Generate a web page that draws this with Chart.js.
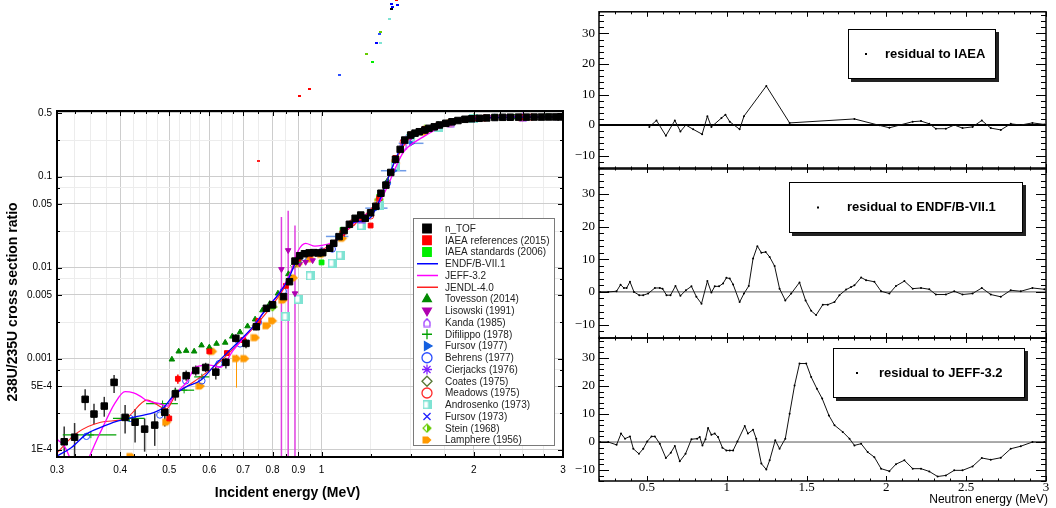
<!DOCTYPE html>
<html>
<head>
<meta charset="utf-8">
<title>238U/235U fission cross section ratio</title>
<script src="https://cdn.jsdelivr.net/npm/chart.js@4.4.0/dist/chart.umd.min.js"></script>
<style>
  body { margin: 0; background: #fff; }
  #wrap { position: relative; width: 1056px; height: 508px; overflow: hidden; }
  #wrap canvas { position: absolute; left: 0; top: 0; }
</style>
</head>
<body>
<div id="wrap">
  <canvas id="ratio" width="1056" height="508"></canvas>
  <canvas id="res1" width="1056" height="508"></canvas>
  <canvas id="res2" width="1056" height="508"></canvas>
  <canvas id="res3" width="1056" height="508"></canvas>
</div>
<script>
// ---------- left panel: cross section ratio (energy in MeV) ----------
const ntofE = [0.310, 0.325, 0.341, 0.355, 0.372, 0.389, 0.409, 0.428, 0.447, 0.468, 0.490, 0.514, 0.540, 0.564, 0.590, 0.618, 0.647, 0.677, 0.709, 0.743,
  0.778, 0.800, 0.841, 0.864, 0.886, 0.905, 0.925, 0.945, 0.965, 0.985, 1.005, 1.038, 1.057, 1.083, 1.108, 1.135, 1.165, 1.195, 1.220, 1.250,
  1.280, 1.310, 1.340, 1.370, 1.400, 1.430, 1.460, 1.500, 1.530, 1.560, 1.600, 1.630, 1.670, 1.710, 1.760, 1.810, 1.860, 1.920, 1.980, 2.050,
  2.120, 2.200, 2.280, 2.360, 2.450, 2.540, 2.630, 2.720, 2.810, 2.900, 2.970];
const ntofR = [1.22e-4, 1.37e-4, 3.57e-4, 2.46e-4, 3.01e-4, 5.49e-4, 2.26e-4, 2.00e-4, 1.68e-4, 1.86e-4, 2.57e-4, 4.10e-4, 6.50e-4, 7.40e-4, 8.00e-4, 7.10e-4, 9.10e-4, 1.67e-3, 1.47e-3, 2.24e-3,
  3.57e-3, 3.90e-3, 4.80e-3, 7.00e-3, 0.0118, 0.0135, 0.0142, 0.0145, 0.0146, 0.0145, 0.0146, 0.0163, 0.0185, 0.0219, 0.0255, 0.0299, 0.0348, 0.0378, 0.0348, 0.0400,
  0.0471, 0.0656, 0.0806, 0.111, 0.155, 0.199, 0.252, 0.286, 0.300, 0.311, 0.325, 0.339, 0.352, 0.369, 0.385, 0.400, 0.413, 0.426, 0.432, 0.437,
  0.441, 0.446, 0.448, 0.449, 0.450, 0.450, 0.451, 0.451, 0.452, 0.452, 0.452];
const ntofLo = [7e-5, 7e-5, 2.7e-4, 1.9e-4, 2.3e-4, 4.2e-4, 1.5e-4, 1.2e-4, 9.5e-5, 1.1e-4, 1.8e-4, 3.45e-4, 5.7e-4, 6.5e-4, 7.1e-4, 5.9e-4, 7.8e-4, 1.5e-3, 1.3e-3, 2.05e-3];
const ntofHi = [1.8e-4, 1.96e-4, 4.6e-4, 3.2e-4, 3.8e-4, 6.6e-4, 3.1e-4, 2.8e-4, 2.2e-4, 2.5e-4, 3.1e-4, 4.8e-4, 7.4e-4, 8.4e-4, 9.0e-4, 8.1e-4, 1.02e-3, 1.85e-3, 1.65e-3, 2.45e-3];

const iaeaRefE = [0.500, 0.520, 0.600, 0.650, 0.700, 0.750, 0.800, 0.850, 0.900, 1.000, 1.100, 1.200, 1.250, 1.300, 1.400, 1.500, 1.600, 1.800, 2.000, 2.500, 3.000];
const iaeaRefR = [2.2e-4, 6.0e-4, 1.2e-3, 1.15e-3, 1.6e-3, 2.6e-3, 4.0e-3, 6.3e-3, 0.0125, 0.0148, 0.024, 0.034, 0.029, 0.058, 0.160, 0.290, 0.335, 0.400, 0.437, 0.450, 0.452];
const iaeaRefLo = [2.0e-4, 5.3e-4];
const iaeaRefHi = [2.45e-4, 6.7e-4];

const iaeaStdE = [0.800, 0.900, 1.000, 1.100, 1.200, 1.300, 1.400, 1.500, 1.600, 1.800, 2.000, 2.200, 2.500, 2.800];
const iaeaStdR = [3.8e-3, 0.0122, 0.0114, 0.026, 0.036, 0.060, 0.152, 0.290, 0.330, 0.400, 0.440, 0.450, 0.452, 0.455];

const endfE = [0.300, 0.320, 0.344, 0.370, 0.392, 0.430, 0.471, 0.490, 0.511, 0.540, 0.577, 0.619, 0.650, 0.690, 0.730, 0.780, 0.820, 0.860, 0.890, 0.920,
  0.960, 1.000, 1.050, 1.100, 1.150, 1.200, 1.250, 1.300, 1.350, 1.400, 1.450, 1.500, 1.560, 1.650, 1.800, 2.000, 2.200, 2.500, 3.000];
const endfR = [8.5e-5, 1.05e-4, 1.5e-4, 1.8e-4, 2.03e-4, 2.3e-4, 2.61e-4, 3.0e-4, 4.0e-4, 4.9e-4, 5.8e-4, 8.8e-4, 1.15e-3, 1.59e-3, 2.2e-3, 3.6e-3, 5.0e-3, 7.5e-3, 0.0115, 0.0135,
  0.0140, 0.0150, 0.0175, 0.0240, 0.0310, 0.0325, 0.0355, 0.054, 0.092, 0.155, 0.230, 0.290, 0.330, 0.360, 0.390, 0.430, 0.445, 0.450, 0.455];

const jeffE = [0.300, 0.310, 0.325, 0.338, 0.348, 0.360, 0.370, 0.390, 0.409, 0.425, 0.437, 0.452, 0.479, 0.495, 0.510, 0.541, 0.565, 0.600, 0.630, 0.670,
  0.720, 0.780, 0.830, 0.870, 0.900, 0.930, 0.970, 1.000, 1.050, 1.100, 1.150, 1.200, 1.250, 1.300, 1.350, 1.400, 1.450, 1.500, 1.600, 1.700,
  1.800, 2.000, 2.300, 2.600, 3.000];
const jeffR = [1.3e-4, 1.1e-4, 6.5e-5, 6.0e-5, 8.5e-5, 1.3e-4, 1.79e-4, 3.2e-4, 4.33e-4, 4.2e-4, 3.9e-4, 3.45e-4, 3.2e-4, 3.0e-4, 3.9e-4, 5.5e-4, 8.1e-4, 8.5e-4, 8.0e-4, 1.25e-3,
  2.0e-3, 3.6e-3, 5.5e-3, 9.0e-3, 0.0155, 0.0185, 0.0172, 0.0175, 0.0190, 0.0230, 0.0300, 0.0360, 0.0410, 0.052, 0.078, 0.125, 0.185, 0.223, 0.280, 0.340,
  0.395, 0.455, 0.465, 0.460, 0.450];

const jendlE = [0.300, 0.327, 0.366, 0.410, 0.452, 0.494, 0.515, 0.560, 0.620, 0.680, 0.740, 0.800, 0.850, 0.890, 0.950, 1.000, 1.100, 1.200, 1.300, 1.400,
  1.500, 1.700, 2.000, 2.500, 3.000];
const jendlR = [9.2e-5, 1.5e-4, 2.0e-4, 2.2e-4, 3.5e-4, 2.8e-4, 4.0e-4, 5.6e-4, 8.6e-4, 1.4e-3, 2.3e-3, 3.9e-3, 6.5e-3, 0.0120, 0.0145, 0.0155, 0.0235, 0.035, 0.058, 0.150,
  0.275, 0.360, 0.430, 0.447, 0.450];

const tovE = [0.506, 0.522, 0.540, 0.560, 0.579, 0.600, 0.620, 0.645, 0.666, 0.690, 0.714, 0.739, 0.764, 0.790, 0.820, 0.860, 0.900, 1.000, 1.100, 1.200, 1.350, 1.500, 1.700, 2.000, 2.400, 2.800];
const tovR = [9.8e-4, 1.2e-3, 1.22e-3, 1.2e-3, 1.4e-3, 1.33e-3, 1.46e-3, 1.5e-3, 1.75e-3, 1.95e-3, 2.27e-3, 2.7e-3, 3.4e-3, 4.0e-3, 5.2e-3, 8.5e-3, 0.0128, 0.0150, 0.025, 0.036, 0.090, 0.285, 0.370, 0.440, 0.450, 0.450];

const lisE = [0.833, 0.859, 0.886, 0.905, 0.930, 0.960, 1.000, 1.100, 1.200, 1.300, 1.400, 1.500, 1.600, 1.800, 2.000, 2.500];
const lisR = [9.6e-3, 0.0155, 5.2e-3, 0.0110, 0.0115, 0.0120, 0.0145, 0.024, 0.035, 0.055, 0.150, 0.270, 0.320, 0.390, 0.430, 0.445];
const lisLo = [5e-5, 5e-5, 5e-5];
const lisHi = [0.036, 0.042, 0.029];

const kandaE = [1.000, 1.200, 1.450, 1.800, 2.500];
const kandaR = [0.0152, 0.034, 0.220, 0.390, 0.448];

const difE = [0.350, 0.417, 0.485, 0.535, 0.580];
const difR = [1.45e-4, 2.2e-4, 3.2e-4, 4.5e-4, 6.3e-4];
const difXLo = [0.308, 0.387, 0.450, 0.510, 0.560];
const difXHi = [0.393, 0.447, 0.520, 0.560, 0.600];

const fur77E = [1.075, 1.285, 1.390, 1.505];
const fur77R = [0.022, 0.045, 0.116, 0.232];
const fur77XLo = [1.02, 1.22, 1.31, 1.42];
const fur77XHi = [1.13, 1.35, 1.47, 1.59];

const behE = [0.343, 0.418, 0.479, 0.539, 0.580, 0.627, 0.690, 0.750, 0.840, 0.920, 1.050, 1.200, 1.350, 1.500, 1.800, 2.200];
const behR = [1.4e-4, 2.2e-4, 2.4e-4, 5.7e-4, 5.7e-4, 8.8e-4, 1.45e-3, 2.5e-3, 5.5e-3, 0.013, 0.016, 0.034, 0.085, 0.280, 0.395, 0.447];

const cierE = [1.480, 1.700, 2.000, 2.500, 2.900];
const cierR = [0.265, 0.360, 0.430, 0.448, 0.450];

const coatE = [0.740, 0.800, 0.880, 1.000, 1.200, 1.400, 1.600, 2.000];
const coatR = [2.3e-3, 3.8e-3, 0.0105, 0.0150, 0.035, 0.155, 0.330, 0.435];

const meadE = [0.950, 1.150, 1.250, 1.450, 1.700, 2.100, 2.600];
const meadR = [0.0140, 0.031, 0.037, 0.240, 0.365, 0.440, 0.450];

const androE = [0.850, 0.900, 0.950, 1.050, 1.090, 1.200, 1.300, 1.400, 1.500, 1.700, 2.000];
const androR = [2.9e-3, 4.5e-3, 8.1e-3, 0.0112, 0.0137, 0.029, 0.048, 0.130, 0.260, 0.350, 0.430];

const fur73E = [0.950, 1.100, 1.300, 1.450, 1.800, 2.300];
const fur73R = [0.0145, 0.023, 0.052, 0.240, 0.390, 0.447];

const steinE = [0.800, 1.000, 1.300, 1.600, 2.000];
const steinR = [3.7e-3, 0.0147, 0.056, 0.330, 0.438];

const lampE = [0.420, 0.494, 0.576, 0.609, 0.679, 0.705, 0.740, 0.780, 0.800, 0.840, 0.880, 0.900, 0.950, 1.000, 1.100, 1.200, 1.300, 1.400, 1.500, 1.600, 1.800, 2.000, 2.500];
const lampR = [8.4e-5, 2.0e-4, 5.0e-4, 1.2e-3, 1.0e-3, 1.0e-3, 1.7e-3, 2.3e-3, 2.6e-3, 4.4e-3, 7.7e-3, 0.0110, 0.0125, 0.0140, 0.021, 0.031, 0.052, 0.140, 0.262, 0.310, 0.385, 0.430, 0.445];
const lampLo = [null, null, null, null, 4.8e-4];
const lampHi = [null, null, null, null, 1.1e-3];

// points that fall outside the frame (drawn unclipped, as in the original)
const strayE = [0.750, 0.903, 0.944, 1.083, 1.257, 1.222, 1.281, 1.304, 1.298, 1.307, 1.357, 1.371, 1.379, 1.407, 1.374, 1.400];
const strayR = [0.150, 0.768, 0.918, 1.31, 1.83, 2.22, 2.94, 2.94, 3.72, 3.91, 5.39, 6.90, 7.25, 7.69, 7.82, 8.66];
const straySet = ['JENDL-4.0', 'IAEA references (2015)', 'IAEA references (2015)', 'Behrens (1977)', 'IAEA standards (2006)', 'Stein (1968)',
  'ENDF/B-VII.1', 'Androsenko (1973)', 'Behrens (1977)', 'Stein (1968)', 'Androsenko (1973)', 'n_TOF', 'ENDF/B-VII.1', 'ENDF/B-VII.1', 'ENDF/B-VII.1', 'IAEA references (2015)'];

// axis ticks of the left panel
const xTickVals = [0.3, 0.4, 0.5, 0.6, 0.7, 0.8, 0.9, 1, 2, 3];
const xTickLabels = ['0.3', '0.4', '0.5', '0.6', '0.7', '0.8', '0.9', '1', '2', '3'];
const xMinorVals = [0.325, 0.35, 0.375, 0.425, 0.45, 0.475, 0.525, 0.55, 0.575, 0.633, 0.667, 0.75, 0.85, 0.95, 1.25, 1.5, 1.75, 2.25, 2.5, 2.75];
const yTickVals = [1e-4, 5e-4, 0.001, 0.005, 0.01, 0.05, 0.1, 0.5];
const yTickLabels = ['1E-4', '5E-4', '0.001', '0.005', '0.01', '0.05', '0.1', '0.5'];
const yMinorVals = [2.5e-4, 7.5e-4, 0.0025, 0.0075, 0.025, 0.075, 0.25];

// ---------- right panels: residuals in % ----------
const resIaeaE = [0.515, 0.560, 0.619, 0.675, 0.710, 0.744, 0.790, 0.846, 0.879, 0.904, 0.967, 0.992, 1.019, 1.081, 1.108, 1.248, 1.394, 1.800,
  1.956, 2.019, 2.165, 2.217, 2.269, 2.310, 2.373, 2.425, 2.477, 2.540, 2.598, 2.654, 2.717, 2.779, 2.842, 2.915, 2.990];
const resIaea = [-0.6, 1.5, -3.5, 1.5, -2.1, 0.0, -1.4, -3.0, 2.9, -0.6, 2.3, 3.4, 1.1, -1.4, 2.9, 12.8, 0.7, 2.0,
  -0.1, -0.9, 1.1, 1.3, 0.4, -1.2, -1.2, 0.0, -1.0, -0.6, 1.5, -1.0, -1.6, 0.4, 0.0, 0.7, 0.2];

const resEndfE = [0.206, 0.258, 0.310, 0.335, 0.356, 0.373, 0.394, 0.419, 0.452, 0.477, 0.508, 0.550, 0.581, 0.598, 0.623, 0.648, 0.679, 0.710, 0.744, 0.779,
  0.810, 0.842, 0.879, 0.904, 0.925, 0.952, 0.977, 0.998, 1.019, 1.040, 1.081, 1.108, 1.138, 1.165, 1.192, 1.217, 1.244, 1.269, 1.300, 1.331,
  1.367, 1.404, 1.456, 1.494, 1.529, 1.560, 1.602, 1.633, 1.675, 1.706, 1.748, 1.779, 1.800, 1.842, 1.873, 1.925, 1.967, 2.019, 2.060, 2.113,
  2.165, 2.217, 2.269, 2.310, 2.373, 2.425, 2.477, 2.540, 2.598, 2.654, 2.717, 2.779, 2.842, 2.915, 2.990];
const resEndf = [0.0, 0.0, 0.2, 2.2, 1.2, 1.2, 3.1, 0.0, -1.0, -1.0, -0.5, 1.2, 1.2, 1.0, -1.0, -1.0, 1.8, -1.2, 0.5, 1.7,
  -1.5, -3.6, 3.3, -0.2, 1.7, 1.7, 2.6, 4.3, 4.1, 2.3, -3.1, -0.5, 1.8, 10.2, 14.0, 12.0, 12.2, 10.7, 7.9, 1.0,
  -2.6, -0.5, 2.9, -2.6, -5.8, -7.1, -3.9, -3.9, -3.1, -1.0, 0.7, 1.5, 2.0, 4.4, 3.6, 3.1, 0.2, -0.5, 1.8, 3.3,
  1.0, 1.2, 0.8, -0.8, -0.8, 0.2, -0.8, -0.5, 1.2, -0.8, -1.5, 0.5, 0.2, 1.2, 0.8];

const resJeffE = [0.206, 0.258, 0.310, 0.338, 0.363, 0.394, 0.415, 0.450, 0.477, 0.502, 0.529, 0.550, 0.581, 0.619, 0.650, 0.675, 0.706, 0.742, 0.779, 0.815,
  0.831, 0.848, 0.867, 0.883, 0.904, 0.925, 0.946, 0.973, 0.998, 1.019, 1.040, 1.067, 1.113, 1.133, 1.165, 1.185, 1.217, 1.248, 1.269, 1.304,
  1.331, 1.367, 1.394, 1.425, 1.456, 1.498, 1.529, 1.565, 1.598, 1.640, 1.675, 1.727, 1.769, 1.800, 1.842, 1.883, 1.925, 1.967, 2.019, 2.060,
  2.113, 2.165, 2.217, 2.269, 2.321, 2.373, 2.425, 2.477, 2.540, 2.598, 2.654, 2.717, 2.779, 2.842, 2.915, 2.990];
const resJeff = [0.0, 0.0, -1.0, 3.0, 1.2, 2.0, -2.4, -4.2, -2.4, 0.2, 2.0, 2.0, -0.6, -5.7, -3.8, -1.4, -6.9, -4.2, 1.0, 1.2,
  1.8, -1.2, 1.0, 5.0, 2.6, 3.0, 1.8, -2.0, -3.0, -3.0, -3.0, 0.2, 5.7, 3.0, 4.4, 1.2, -7.7, -9.8, -6.5, 0.6,
  -2.4, 1.2, 10.1, 20.2, 28.0, 28.0, 23.2, 19.0, 15.5, 9.5, 6.0, 3.6, 1.2, -1.2, -0.6, -3.6, -5.4, -9.5, -10.4, -7.9,
  -6.5, -9.5, -9.5, -10.5, -12.3, -11.9, -10.1, -10.1, -8.7, -5.7, -6.3, -5.6, -2.4, -1.5, 0.0, 0.0];

const resTickVals = [-10, 0, 10, 20, 30];
const energyTickVals = [0.5, 1, 1.5, 2, 2.5, 3];

// ---------- helpers ----------
const H = Chart.helpers;

function pts(xs, ys) {
  return xs.map((v, i) => ({ x: v, y: ys[i] }));
}

function glyph(size, draw) {
  const c = document.createElement('canvas');
  c.width = size; c.height = size;
  draw(c.getContext('2d'), size);
  return c;
}

const kandaGlyph = glyph(10, g => {
  g.strokeStyle = '#9933ff'; g.lineWidth = 1.2;
  g.beginPath(); g.moveTo(2, 9); g.lineTo(8, 9); g.lineTo(8, 4.5); g.lineTo(5, 1.2); g.lineTo(2, 4.5); g.closePath(); g.stroke();
});
const androGlyph = glyph(9, g => {
  g.fillStyle = '#7fe3d3'; g.fillRect(0, 0, 9, 9);
  g.fillStyle = '#fff'; g.fillRect(1.5, 1.5, 4, 6);
});
const steinGlyph = glyph(10, g => {
  g.strokeStyle = '#66cc00'; g.fillStyle = '#66cc00'; g.lineWidth = 1.2;
  g.beginPath(); g.moveTo(5, 1); g.lineTo(9, 5); g.lineTo(5, 9); g.lineTo(1, 5); g.closePath(); g.stroke();
  g.beginPath(); g.moveTo(5, 1); g.lineTo(9, 5); g.lineTo(5, 9); g.closePath(); g.fill();
});
const lampGlyph = glyph(10, g => {
  g.fillStyle = '#ff9900';
  g.beginPath(); g.moveTo(0.5, 1.5); g.lineTo(6, 1.5); g.lineTo(9.5, 5); g.lineTo(6, 8.5); g.lineTo(0.5, 8.5); g.closePath(); g.fill();
});

function marker(label, xs, ys, style, color, extra) {
  return Object.assign({
    label, data: pts(xs, ys), showLine: false, order: 2,
    pointStyle: style, pointRadius: 3.2, pointBorderWidth: 1,
    pointBackgroundColor: color, pointBorderColor: color,
    borderColor: color, backgroundColor: color
  }, extra || {});
}

function model(label, xs, ys, color, width) {
  return {
    label, data: pts(xs, ys), showLine: true, isLine: true, order: 1,
    borderColor: color, backgroundColor: color, borderWidth: width,
    pointRadius: 0, cubicInterpolationMode: 'monotone'
  };
}

// ---------- plugins ----------
const errorBars = {
  id: 'errorBars',
  beforeDatasetsDraw(chart) {
    const { ctx, chartArea: a, scales: { x, y } } = chart;
    ctx.save();
    ctx.beginPath(); ctx.rect(a.left, a.top, a.right - a.left, a.bottom - a.top); ctx.clip();
    chart.data.datasets.forEach(ds => {
      if (!ds.errLo && !ds.errXLo) return;
      ctx.strokeStyle = ds.errColor || ds.borderColor;
      ctx.lineWidth = ds.errWidth || 1;
      ds.data.forEach((p, i) => {
        const px = x.getPixelForValue(p.x), py = y.getPixelForValue(p.y);
        ctx.beginPath();
        if (ds.errLo && ds.errLo[i] != null) {
          ctx.moveTo(px, y.getPixelForValue(ds.errLo[i]));
          ctx.lineTo(px, y.getPixelForValue(ds.errHi[i]));
        }
        if (ds.errXLo && ds.errXLo[i] != null) {
          ctx.moveTo(x.getPixelForValue(ds.errXLo[i]), py);
          ctx.lineTo(x.getPixelForValue(ds.errXHi[i]), py);
        }
        ctx.stroke();
      });
    });
    ctx.restore();
  }
};

const zeroLine = {
  id: 'zeroLine',
  beforeDatasetsDraw(chart, args, opts) {
    if (!opts.width) return;
    const { ctx, chartArea: a, scales: { y } } = chart;
    const py = y.getPixelForValue(0);
    ctx.save();
    ctx.strokeStyle = opts.color || '#000';
    ctx.lineWidth = opts.width;
    ctx.beginPath(); ctx.moveTo(a.left, py); ctx.lineTo(a.right, py); ctx.stroke();
    ctx.restore();
  }
};

// frame with ROOT style ticks pointing inwards
const frameTicks = {
  id: 'frameTicks',
  afterDatasetsDraw(chart, args, opts) {
    const { ctx, chartArea: a, scales: { x, y } } = chart;
    ctx.save();
    ctx.strokeStyle = '#000';
    ctx.lineWidth = 1;
    ctx.beginPath();
    (opts.x || []).forEach(t => {
      const px = Math.round(x.getPixelForValue(t.v)) + 0.5;
      ctx.moveTo(px, a.bottom); ctx.lineTo(px, a.bottom - t.len);
      ctx.moveTo(px, a.top); ctx.lineTo(px, a.top + t.len);
    });
    (opts.y || []).forEach(t => {
      const py = Math.round(y.getPixelForValue(t.v)) + 0.5;
      ctx.moveTo(a.left, py); ctx.lineTo(a.left + t.len, py);
      ctx.moveTo(a.right, py); ctx.lineTo(a.right - t.len, py);
    });
    ctx.stroke();
    ctx.lineWidth = opts.width || 1.5;
    ctx.strokeRect(a.left, a.top, a.right - a.left, a.bottom - a.top);
    ctx.restore();
  }
};

const strays = {
  id: 'strays',
  afterDatasetsDraw(chart, args, opts) {
    if (!opts.e) return;
    const { ctx, scales: { x, y } } = chart;
    ctx.save();
    opts.e.forEach((e, i) => {
      const ds = chart.data.datasets.find(d => d.label === opts.set[i]);
      ctx.fillStyle = ds ? ds.borderColor : '#000';
      const px = x.getPixelForValue(e), py = y.getPixelForValue(opts.r[i]);
      ctx.fillRect(Math.round(px) - 1, Math.round(py) - 1, 3, 2);
    });
    ctx.restore();
  }
};

const boxLegend = {
  id: 'boxLegend',
  afterDraw(chart, args, opts) {
    if (!opts.box) return;
    const { ctx } = chart;
    const b = opts.box;
    ctx.save();
    ctx.fillStyle = '#fff';
    ctx.fillRect(b.left, b.top, b.right - b.left, b.bottom - b.top);
    ctx.strokeStyle = '#7a7a7a'; ctx.lineWidth = 1;
    ctx.strokeRect(b.left + 0.5, b.top + 0.5, b.right - b.left, b.bottom - b.top);
    ctx.font = '10px "Liberation Sans", Arial, sans-serif';
    ctx.textBaseline = 'middle';
    chart.data.datasets.forEach((ds, i) => {
      const cy = b.firstRow + i * b.rowStep;
      if (ds.isLine) {
        ctx.strokeStyle = ds.borderColor; ctx.lineWidth = 1.5;
        ctx.beginPath(); ctx.moveTo(b.lineFrom, cy); ctx.lineTo(b.lineTo, cy); ctx.stroke();
      } else {
        ctx.fillStyle = ds.pointBackgroundColor;
        ctx.strokeStyle = ds.pointBorderColor;
        ctx.lineWidth = 1.3;
        H.drawPoint(ctx, { pointStyle: ds.pointStyle, rotation: ds.rotation || 0, radius: ds.legendRadius || 5, borderWidth: 1.3 }, b.symbolX, cy);
      }
      ctx.fillStyle = '#222';
      ctx.fillText(ds.label, b.textX, cy + 0.5);
    });
    ctx.restore();
  }
};

const resLegend = {
  id: 'resLegend',
  afterDraw(chart, args, opts) {
    const { ctx } = chart;
    const b = opts.box;
    ctx.save();
    ctx.fillStyle = '#222';
    ctx.fillRect(b.left + 3, b.top + 3, b.right - b.left, b.bottom - b.top);
    ctx.fillStyle = '#fff';
    ctx.fillRect(b.left, b.top, b.right - b.left, b.bottom - b.top);
    ctx.strokeStyle = '#000'; ctx.lineWidth = 1;
    ctx.strokeRect(b.left + 0.5, b.top + 0.5, b.right - b.left - 1, b.bottom - b.top - 1);
    const cy = (b.top + b.bottom) / 2;
    ctx.fillStyle = '#000';
    ctx.fillRect(b.dotX - 1, cy - 1, 2, 2);
    ctx.font = 'bold 13px "Liberation Sans", Arial, sans-serif';
    ctx.textBaseline = 'middle';
    ctx.fillText(opts.text, b.textX, cy);
    if (opts.xTitle) {
      ctx.font = '12px "Liberation Sans", Arial, sans-serif';
      ctx.textAlign = 'right';
      ctx.fillText(opts.xTitle, chart.chartArea.right + 2, 500);
    }
    ctx.restore();
  }
};

const axisTitles = {
  id: 'axisTitles',
  afterDraw(chart, args, opts) {
    const { ctx } = chart;
    ctx.save();
    ctx.fillStyle = '#000';
    ctx.font = 'bold 14px "Liberation Sans", Arial, sans-serif';
    ctx.textAlign = 'center';
    ctx.textBaseline = 'middle';
    ctx.fillText(opts.x, 287.5, 493);
    ctx.translate(13, 302);
    ctx.rotate(-Math.PI / 2);
    ctx.fillText(opts.y, 0, 0);
    ctx.restore();
  }
};

// ---------- left chart ----------
const majorX = xTickVals.map(v => ({ v, len: 5 })).concat(xMinorVals.map(v => ({ v, len: 3 })));
const majorY = yTickVals.map(v => ({ v, len: 5 })).concat(yMinorVals.map(v => ({ v, len: 3 })));

const ratioSets = [
  marker('n_TOF', ntofE, ntofR, 'rect', '#000', { pointRadius: 4.6, order: 0, errLo: ntofLo, errHi: ntofHi, errColor: '#333', errWidth: 1.5, legendRadius: 6 }),
  marker('IAEA references (2015)', iaeaRefE, iaeaRefR, 'rect', '#ff0000', { pointRadius: 3.4, errLo: iaeaRefLo, errHi: iaeaRefHi, errWidth: 1.5, legendRadius: 6 }),
  marker('IAEA standards (2006)', iaeaStdE, iaeaStdR, 'rect', '#00ee00', { pointRadius: 3.4, legendRadius: 6 }),
  model('ENDF/B-VII.1', endfE, endfR, '#0000ff', 1.3),
  model('JEFF-3.2', jeffE, jeffR, '#ff00ff', 1.3),
  model('JENDL-4.0', jendlE, jendlR, '#ff2020', 1.1),
  marker('Tovesson (2014)', tovE, tovR, 'triangle', '#008a00'),
  marker('Lisowski (1991)', lisE, lisR, 'triangle', '#b000b0', { rotation: 180, pointRotation: 180, errLo: lisLo, errHi: lisHi, errColor: '#e040e0', errWidth: 1.5 }),
  marker('Kanda (1985)', kandaE, kandaR, kandaGlyph, '#9933ff'),
  marker('Difilippo (1978)', difE, difR, 'cross', '#00a000', { errXLo: difXLo, errXHi: difXHi, errWidth: 1.2 }),
  marker('Fursov (1977)', fur77E, fur77R, 'triangle', '#1560e0', { rotation: 90, pointRotation: 90, errXLo: fur77XLo, errXHi: fur77XHi, errColor: '#6f9be8', errWidth: 1.5 }),
  marker('Behrens (1977)', behE, behR, 'circle', '#2a4dff', { pointBackgroundColor: 'rgba(0,0,0,0)' }),
  marker('Cierjacks (1976)', cierE, cierR, 'star', '#8020ff'),
  marker('Coates (1975)', coatE, coatR, 'rectRot', '#557733', { pointBackgroundColor: 'rgba(0,0,0,0)' }),
  marker('Meadows (1975)', meadE, meadR, 'circle', '#ff2a2a', { pointBackgroundColor: 'rgba(0,0,0,0)' }),
  marker('Androsenko (1973)', androE, androR, androGlyph, '#7fe3d3'),
  marker('Fursov (1973)', fur73E, fur73R, 'crossRot', '#2020ff'),
  marker('Stein (1968)', steinE, steinR, steinGlyph, '#66cc00'),
  marker('Lamphere (1956)', lampE, lampR, lampGlyph, '#ff9900', { errLo: lampLo, errHi: lampHi })
];

new Chart(document.getElementById('ratio'), {
  type: 'scatter',
  data: { datasets: ratioSets },
  options: {
    responsive: false,
    animation: false,
    events: [],
    layout: { padding: { left: 7, top: 111, right: 1056 - 563, bottom: 508 - 457 - 30 } },
    scales: {
      x: {
        type: 'logarithmic', min: 0.3, max: 3,
        afterFit: s => { s.height = 30; },
        afterBuildTicks: s => { s.ticks = xTickVals.concat(xMinorVals).map(v => ({ value: v })); },
        ticks: {
          autoSkip: false, maxRotation: 0, minRotation: 0, padding: 7, color: '#000',
          font: { size: 10, family: '"Liberation Sans", Arial, sans-serif' },
          callback: v => { const i = xTickVals.indexOf(v); return i < 0 ? '' : xTickLabels[i]; }
        },
        grid: { drawTicks: false, lineWidth: 1, color: c => xTickVals.includes(c.tick && c.tick.value) ? '#cdcdcd' : '#ececec' },
        border: { display: false }
      },
      y: {
        type: 'logarithmic', min: 8.3e-5, max: 0.5255,
        afterFit: s => { s.width = 50; },
        afterBuildTicks: s => { s.ticks = yTickVals.concat(yMinorVals).map(v => ({ value: v })); },
        ticks: {
          autoSkip: false, padding: 5, color: '#000',
          font: { size: 10, family: '"Liberation Sans", Arial, sans-serif' },
          callback: v => { const i = yTickVals.indexOf(v); return i < 0 ? '' : yTickLabels[i]; }
        },
        grid: { drawTicks: false, lineWidth: 1, color: c => yTickVals.includes(c.tick && c.tick.value) ? '#cdcdcd' : '#ececec' },
        border: { display: false }
      }
    },
    plugins: {
      legend: { display: false },
      tooltip: { enabled: false },
      frameTicks: { x: majorX, y: majorY, width: 2 },
      strays: { e: strayE, r: strayR, set: straySet },
      boxLegend: { box: { left: 413, top: 218, right: 554, bottom: 445, firstRow: 228.5, rowStep: 11.75, symbolX: 427, lineFrom: 417, lineTo: 438, textX: 445 } },
      axisTitles: { x: 'Incident energy (MeV)', y: '238U/235U cross section ratio' }
    }
  },
  plugins: [errorBars, frameTicks, strays, boxLegend, axisTitles]
});

// ---------- residual charts ----------
const resXTicks = [];
for (let k = 2; k <= 30; k++) resXTicks.push({ v: k / 10, len: k % 5 === 0 ? 5 : 2.5 });
const resYTicks = [];
for (let k = -14; k <= 36; k += 2) resYTicks.push({ v: k, len: k % 10 === 0 ? 10 : 5 });

const serif = '"Liberation Serif", "Times New Roman", serif';

function residualChart(id, xs, ys, cfg) {
  const xH = cfg.showX ? 24 : 0;
  return new Chart(document.getElementById(id), {
    type: 'scatter',
    data: {
      datasets: [{
        label: cfg.text, data: pts(xs, ys), showLine: true,
        borderColor: '#111', borderWidth: 1, pointRadius: 1, pointBackgroundColor: '#000', pointBorderWidth: 0
      }]
    },
    options: {
      responsive: false,
      animation: false,
      events: [],
      layout: { padding: { left: 599 - 40, top: cfg.top, right: 1056 - 1046, bottom: 508 - cfg.bottom - xH } },
      scales: {
        x: {
          type: 'linear', min: 0.2, max: 3,
          afterFit: s => { s.height = xH; },
          afterBuildTicks: s => { s.ticks = energyTickVals.map(v => ({ value: v })); },
          ticks: {
            display: cfg.showX, autoSkip: false, maxRotation: 0, padding: -1, color: '#000', font: { size: 13, family: serif },
            callback: v => String(v)
          },
          grid: { display: false, drawTicks: false },
          border: { display: false }
        },
        y: {
          type: 'linear', min: cfg.yMin, max: cfg.yMax,
          afterFit: s => { s.width = 40; },
          afterBuildTicks: s => { s.ticks = resTickVals.map(v => ({ value: v })); },
          ticks: {
            autoSkip: false, padding: 4, color: '#000', font: { size: 13, family: serif },
            callback: v => v < 0 ? '\u2212' + Math.abs(v) : String(v)
          },
          grid: { display: false, drawTicks: false },
          border: { display: false }
        }
      },
      plugins: {
        legend: { display: false },
        tooltip: { enabled: false },
        zeroLine: { width: cfg.zeroWidth, color: cfg.zeroColor },
        frameTicks: { x: resXTicks, y: resYTicks, width: 1.5 },
        resLegend: { box: cfg.box, text: cfg.text, xTitle: cfg.xTitle }
      }
    },
    plugins: [zeroLine, frameTicks, resLegend]
  });
}

residualChart('res1', resIaeaE, resIaea, {
  top: 8, bottom: 169, yMin: -14.4, yMax: 37.1, zeroWidth: 2, zeroColor: '#000',
  text: 'residual to IAEA', box: { left: 848, top: 29, right: 996, bottom: 79, dotX: 866, textX: 885 }
});
residualChart('res2', resEndfE, resEndf, {
  top: 168, bottom: 338, yMin: -14.1, yMax: 37.9, zeroWidth: 1, zeroColor: '#555',
  text: 'residual to ENDF/B-VII.1', box: { left: 789, top: 182, right: 1023, bottom: 233, dotX: 818, textX: 847 }
});
residualChart('res3', resJeffE, resJeff, {
  top: 338, bottom: 481, yMin: -13.9, yMax: 37.1, zeroWidth: 1, zeroColor: '#555', showX: true,
  xTitle: 'Neutron energy (MeV)',
  text: 'residual to JEFF-3.2', box: { left: 833, top: 348, right: 1025, bottom: 398, dotX: 857, textX: 879 }
});
</script>
</body>
</html>
